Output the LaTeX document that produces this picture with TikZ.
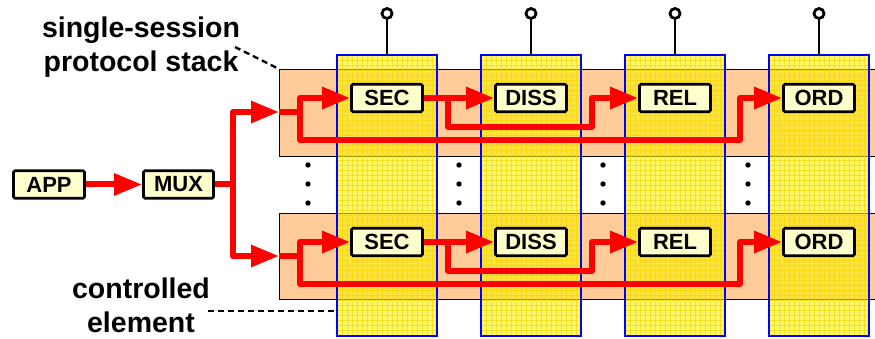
\documentclass[tikz,border=0pt]{standalone}
\usepackage{fontspec}
\setmainfont{Liberation Sans}
\usetikzlibrary{arrows.meta}
\definecolor{peach}{RGB}{255,204,153}
\definecolor{cream}{RGB}{255,255,204}
\definecolor{colblue}{RGB}{0,0,255}
\definecolor{gridyel}{RGB}{240,215,0}
\begin{document}
\begin{tikzpicture}[x=1pt,y=-1pt,
  stack/.style={fill=peach,draw=black,line width=1.2pt,anchor=north west,inner sep=0pt,minimum width=610pt},
  colfill/.style={fill=yellow,fill opacity=0.6},
  gridl/.style={draw=gridyel,line width=0.7pt,opacity=0.6},
  colborder/.style={draw=colblue,line width=1.5pt},
  lbox/.style={draw=black,line width=2.8pt,fill=cream,rounded corners=1.5pt,minimum width=71pt,minimum height=27.5pt,inner sep=0pt,font=\fontsize{22}{22}\selectfont\bfseries},
  redline/.style={draw=red,line width=6pt,line join=round,-{Triangle[length=28pt,width=21pt]}},
  redplain/.style={draw=red,line width=6pt,line join=round},
  lbl/.style={font=\fontsize{28.5}{33}\selectfont\bfseries,inner sep=0pt,anchor=base},
  leader/.style={draw=black,line width=2.4pt,dash pattern=on 6pt off 4pt},
  pin/.style={draw=black,line width=2.8pt}
]
\useasboundingbox (0,0) rectangle (875,339);
% stacks
\node[stack,minimum height=87pt] (stacktop) at (279,69) {};
\node[stack,minimum height=86pt] (stackbot) at (279,213) {};
% columns (controlled elements)
\foreach \cx in {387,531,675,819}{
  \fill[colfill] (\cx-50,55) rectangle (\cx+50,336);
  \foreach \gx in {5,10,...,95}{\draw[gridl] (\cx-50+\gx,55) -- (\cx-50+\gx,336);}
  \foreach \gy in {60,65,...,335}{\draw[gridl] (\cx-50,\gy) -- (\cx+50,\gy);}
  \draw[colborder] (\cx-50,55) rectangle (\cx+50,336);
  \draw[pin] (\cx,55) -- (\cx,19);
  \draw[pin,fill=white] (\cx,13.5) circle[radius=5pt];
}
% dots
\foreach \dx in {308,459,603,748}{
  \foreach \dy in {165,184,203}{\fill[black] (\dx,\dy) circle[radius=2.7pt];}
}
% boxes
\node[lbox] (app) at (49,184.5) {APP};
\node[lbox,minimum width=70pt] (mux) at (178.5,184.5) {MUX};
\foreach \r/\yy in {t/98,b/242}{
  \node[lbox] (sec\r) at (387,\yy) {SEC};
  \node[lbox] (diss\r) at (531,\yy) {DISS};
  \node[lbox] (rel\r) at (675,\yy) {REL};
  \node[lbox] (ord\r) at (819,\yy) {ORD};
}
% connectors
\coordinate (mid) at (233,184.5);
\coordinate (int) at (279,112);
\coordinate (inb) at (279,256);
\draw[redline] (app.east) -- (mux.west);
\draw[redplain] (mux.east) -- (mid);
\draw[redline] (mid) |- (int);
\draw[redline] (mid) |- (inb);
\foreach \r/\dy in {t/0,b/144}{
  \coordinate (split\r) at (300,112+\dy);
  \coordinate (low\r) at (740,140+\dy);
  \coordinate (br\r) at (448,98+\dy);
  \coordinate (brl\r) at (592,127+\dy);
  \draw[redplain] (in\r) -- (split\r);
  \draw[redline] (split\r) |- (sec\r.west);
  \draw[redline] (split\r) |- (low\r) |- (ord\r.west);
  \draw[redline] (sec\r.east) -- (diss\r.west);
  \draw[redline] (br\r) |- (brl\r) |- (rel\r.west);
}
% labels
\node[lbl] (l1a) at (141,38) {single-session};
\node[lbl] (l1b) at (141,72) {protocol stack};
\node[lbl] (l2a) at (141,298) {controlled};
\node[lbl] (l2b) at (141,332) {element};
\coordinate (l1end) at (235,47);
\coordinate (l2end) at (208,311);
\draw[leader] (l1end) -- (stacktop.north west);
\draw[leader] (l2end) -- (337,311);
\end{tikzpicture}
\end{document}
